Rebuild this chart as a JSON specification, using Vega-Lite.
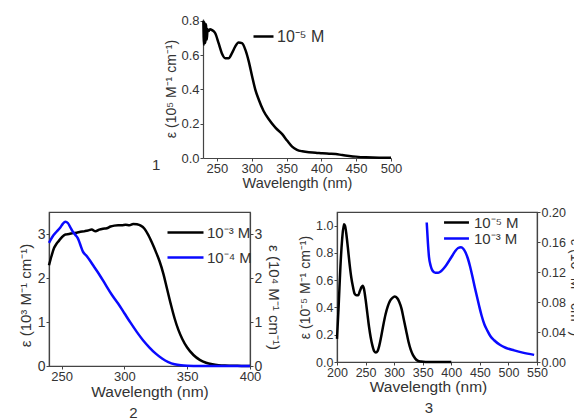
{
  "$schema": "https://vega.github.io/schema/vega-lite/v6.json",
  "padding": {"left": 17, "top": 14, "right": 0, "bottom": 0},
  "datasets": {
    "p1": [
      {"wl": 230.5, "eps": 0.80, "series": "10⁻⁵ M"},
      {"wl": 231.5, "eps": 0.66, "series": "10⁻⁵ M"},
      {"wl": 232.5, "eps": 0.79, "series": "10⁻⁵ M"},
      {"wl": 233.5, "eps": 0.67, "series": "10⁻⁵ M"},
      {"wl": 234.5, "eps": 0.78, "series": "10⁻⁵ M"},
      {"wl": 235.5, "eps": 0.69, "series": "10⁻⁵ M"},
      {"wl": 236.5, "eps": 0.75, "series": "10⁻⁵ M"},
      {"wl": 238, "eps": 0.74, "series": "10⁻⁵ M"},
      {"wl": 240, "eps": 0.75, "series": "10⁻⁵ M"},
      {"wl": 243, "eps": 0.745, "series": "10⁻⁵ M"},
      {"wl": 247.6, "eps": 0.727, "series": "10⁻⁵ M"},
      {"wl": 252.4, "eps": 0.669, "series": "10⁻⁵ M"},
      {"wl": 257, "eps": 0.611, "series": "10⁻⁵ M"},
      {"wl": 262, "eps": 0.582, "series": "10⁻⁵ M"},
      {"wl": 266.8, "eps": 0.582, "series": "10⁻⁵ M"},
      {"wl": 271.6, "eps": 0.611, "series": "10⁻⁵ M"},
      {"wl": 276.4, "eps": 0.65, "series": "10⁻⁵ M"},
      {"wl": 281, "eps": 0.673, "series": "10⁻⁵ M"},
      {"wl": 286, "eps": 0.669, "series": "10⁻⁵ M"},
      {"wl": 290.9, "eps": 0.63, "series": "10⁻⁵ M"},
      {"wl": 295.7, "eps": 0.563, "series": "10⁻⁵ M"},
      {"wl": 300.5, "eps": 0.476, "series": "10⁻⁵ M"},
      {"wl": 305, "eps": 0.4, "series": "10⁻⁵ M"},
      {"wl": 310, "eps": 0.341, "series": "10⁻⁵ M"},
      {"wl": 317, "eps": 0.274, "series": "10⁻⁵ M"},
      {"wl": 324.5, "eps": 0.226, "series": "10⁻⁵ M"},
      {"wl": 334, "eps": 0.177, "series": "10⁻⁵ M"},
      {"wl": 343.75, "eps": 0.139, "series": "10⁻⁵ M"},
      {"wl": 351, "eps": 0.1, "series": "10⁻⁵ M"},
      {"wl": 358, "eps": 0.066, "series": "10⁻⁵ M"},
      {"wl": 365, "eps": 0.048, "series": "10⁻⁵ M"},
      {"wl": 372.6, "eps": 0.039, "series": "10⁻⁵ M"},
      {"wl": 382, "eps": 0.033, "series": "10⁻⁵ M"},
      {"wl": 391.8, "eps": 0.031, "series": "10⁻⁵ M"},
      {"wl": 401.4, "eps": 0.027, "series": "10⁻⁵ M"},
      {"wl": 411, "eps": 0.025, "series": "10⁻⁵ M"},
      {"wl": 420.7, "eps": 0.023, "series": "10⁻⁵ M"},
      {"wl": 430, "eps": 0.017, "series": "10⁻⁵ M"},
      {"wl": 440, "eps": 0.012, "series": "10⁻⁵ M"},
      {"wl": 449.5, "eps": 0.008, "series": "10⁻⁵ M"},
      {"wl": 464, "eps": 0.004, "series": "10⁻⁵ M"},
      {"wl": 483, "eps": 0.002, "series": "10⁻⁵ M"},
      {"wl": 500, "eps": 0.002, "series": "10⁻⁵ M"}
    ],
    "p2a": [
      {"wl": 240, "eps": 2.29, "series": "10⁻³ M"},
      {"wl": 242, "eps": 2.5, "series": "10⁻³ M"},
      {"wl": 244, "eps": 2.68, "series": "10⁻³ M"},
      {"wl": 246, "eps": 2.78, "series": "10⁻³ M"},
      {"wl": 248, "eps": 2.85, "series": "10⁻³ M"},
      {"wl": 250, "eps": 2.92, "series": "10⁻³ M"},
      {"wl": 253, "eps": 2.99, "series": "10⁻³ M"},
      {"wl": 256, "eps": 3.0, "series": "10⁻³ M"},
      {"wl": 259, "eps": 3.02, "series": "10⁻³ M"},
      {"wl": 262, "eps": 3.03, "series": "10⁻³ M"},
      {"wl": 265, "eps": 3.05, "series": "10⁻³ M"},
      {"wl": 268, "eps": 3.06, "series": "10⁻³ M"},
      {"wl": 271, "eps": 3.08, "series": "10⁻³ M"},
      {"wl": 274, "eps": 3.1, "series": "10⁻³ M"},
      {"wl": 277, "eps": 3.06, "series": "10⁻³ M"},
      {"wl": 280, "eps": 3.1, "series": "10⁻³ M"},
      {"wl": 283, "eps": 3.12, "series": "10⁻³ M"},
      {"wl": 286, "eps": 3.13, "series": "10⁻³ M"},
      {"wl": 289, "eps": 3.17, "series": "10⁻³ M"},
      {"wl": 292, "eps": 3.19, "series": "10⁻³ M"},
      {"wl": 295, "eps": 3.2, "series": "10⁻³ M"},
      {"wl": 298, "eps": 3.2, "series": "10⁻³ M"},
      {"wl": 301, "eps": 3.21, "series": "10⁻³ M"},
      {"wl": 304, "eps": 3.2, "series": "10⁻³ M"},
      {"wl": 307, "eps": 3.23, "series": "10⁻³ M"},
      {"wl": 310, "eps": 3.22, "series": "10⁻³ M"},
      {"wl": 313, "eps": 3.19, "series": "10⁻³ M"},
      {"wl": 316, "eps": 3.12, "series": "10⁻³ M"},
      {"wl": 319, "eps": 2.98, "series": "10⁻³ M"},
      {"wl": 322, "eps": 2.8, "series": "10⁻³ M"},
      {"wl": 325, "eps": 2.6, "series": "10⁻³ M"},
      {"wl": 328, "eps": 2.38, "series": "10⁻³ M"},
      {"wl": 331, "eps": 2.1, "series": "10⁻³ M"},
      {"wl": 334, "eps": 1.75, "series": "10⁻³ M"},
      {"wl": 337, "eps": 1.4, "series": "10⁻³ M"},
      {"wl": 340, "eps": 1.08, "series": "10⁻³ M"},
      {"wl": 343, "eps": 0.82, "series": "10⁻³ M"},
      {"wl": 346, "eps": 0.62, "series": "10⁻³ M"},
      {"wl": 350, "eps": 0.42, "series": "10⁻³ M"},
      {"wl": 355, "eps": 0.25, "series": "10⁻³ M"},
      {"wl": 360, "eps": 0.14, "series": "10⁻³ M"},
      {"wl": 365, "eps": 0.075, "series": "10⁻³ M"},
      {"wl": 370, "eps": 0.04, "series": "10⁻³ M"},
      {"wl": 375, "eps": 0.02, "series": "10⁻³ M"},
      {"wl": 380, "eps": 0.01, "series": "10⁻³ M"},
      {"wl": 390, "eps": 0.003, "series": "10⁻³ M"},
      {"wl": 400, "eps": 0.0, "series": "10⁻³ M"}
    ],
    "p2b": [
      {"wl": 240, "eps": 2.8, "series": "10⁻⁴ M"},
      {"wl": 243, "eps": 2.95, "series": "10⁻⁴ M"},
      {"wl": 246, "eps": 3.05, "series": "10⁻⁴ M"},
      {"wl": 249, "eps": 3.15, "series": "10⁻⁴ M"},
      {"wl": 251, "eps": 3.23, "series": "10⁻⁴ M"},
      {"wl": 253, "eps": 3.28, "series": "10⁻⁴ M"},
      {"wl": 255, "eps": 3.25, "series": "10⁻⁴ M"},
      {"wl": 257, "eps": 3.15, "series": "10⁻⁴ M"},
      {"wl": 259, "eps": 3.05, "series": "10⁻⁴ M"},
      {"wl": 261, "eps": 2.98, "series": "10⁻⁴ M"},
      {"wl": 263, "eps": 2.9, "series": "10⁻⁴ M"},
      {"wl": 265, "eps": 2.75, "series": "10⁻⁴ M"},
      {"wl": 267, "eps": 2.6, "series": "10⁻⁴ M"},
      {"wl": 270, "eps": 2.5, "series": "10⁻⁴ M"},
      {"wl": 273, "eps": 2.38, "series": "10⁻⁴ M"},
      {"wl": 276, "eps": 2.25, "series": "10⁻⁴ M"},
      {"wl": 280, "eps": 2.08, "series": "10⁻⁴ M"},
      {"wl": 285, "eps": 1.85, "series": "10⁻⁴ M"},
      {"wl": 290, "eps": 1.62, "series": "10⁻⁴ M"},
      {"wl": 295, "eps": 1.42, "series": "10⁻⁴ M"},
      {"wl": 300, "eps": 1.2, "series": "10⁻⁴ M"},
      {"wl": 305, "eps": 0.98, "series": "10⁻⁴ M"},
      {"wl": 310, "eps": 0.77, "series": "10⁻⁴ M"},
      {"wl": 315, "eps": 0.58, "series": "10⁻⁴ M"},
      {"wl": 320, "eps": 0.42, "series": "10⁻⁴ M"},
      {"wl": 325, "eps": 0.28, "series": "10⁻⁴ M"},
      {"wl": 330, "eps": 0.17, "series": "10⁻⁴ M"},
      {"wl": 335, "eps": 0.09, "series": "10⁻⁴ M"},
      {"wl": 340, "eps": 0.04, "series": "10⁻⁴ M"},
      {"wl": 345, "eps": 0.015, "series": "10⁻⁴ M"},
      {"wl": 350, "eps": 0.005, "series": "10⁻⁴ M"},
      {"wl": 360, "eps": 0.0, "series": "10⁻⁴ M"},
      {"wl": 400, "eps": 0.0, "series": "10⁻⁴ M"}
    ],
    "p3a": [
      {"wl": 200, "eps": 0.17, "series": "10⁻⁵ M"},
      {"wl": 203, "eps": 0.42, "series": "10⁻⁵ M"},
      {"wl": 206, "eps": 0.7, "series": "10⁻⁵ M"},
      {"wl": 209, "eps": 0.9, "series": "10⁻⁵ M"},
      {"wl": 212, "eps": 1.01, "series": "10⁻⁵ M"},
      {"wl": 214, "eps": 1.0, "series": "10⁻⁵ M"},
      {"wl": 216, "eps": 0.95, "series": "10⁻⁵ M"},
      {"wl": 219, "eps": 0.84, "series": "10⁻⁵ M"},
      {"wl": 222, "eps": 0.72, "series": "10⁻⁵ M"},
      {"wl": 225, "eps": 0.62, "series": "10⁻⁵ M"},
      {"wl": 228, "eps": 0.55, "series": "10⁻⁵ M"},
      {"wl": 231, "eps": 0.5, "series": "10⁻⁵ M"},
      {"wl": 234, "eps": 0.49, "series": "10⁻⁵ M"},
      {"wl": 237, "eps": 0.49, "series": "10⁻⁵ M"},
      {"wl": 240, "eps": 0.52, "series": "10⁻⁵ M"},
      {"wl": 243, "eps": 0.55, "series": "10⁻⁵ M"},
      {"wl": 245, "eps": 0.56, "series": "10⁻⁵ M"},
      {"wl": 247, "eps": 0.54, "series": "10⁻⁵ M"},
      {"wl": 250, "eps": 0.46, "series": "10⁻⁵ M"},
      {"wl": 253, "eps": 0.36, "series": "10⁻⁵ M"},
      {"wl": 256, "eps": 0.26, "series": "10⁻⁵ M"},
      {"wl": 259, "eps": 0.18, "series": "10⁻⁵ M"},
      {"wl": 262, "eps": 0.12, "series": "10⁻⁵ M"},
      {"wl": 265, "eps": 0.08, "series": "10⁻⁵ M"},
      {"wl": 268, "eps": 0.07, "series": "10⁻⁵ M"},
      {"wl": 271, "eps": 0.08, "series": "10⁻⁵ M"},
      {"wl": 274, "eps": 0.12, "series": "10⁻⁵ M"},
      {"wl": 277, "eps": 0.18, "series": "10⁻⁵ M"},
      {"wl": 281, "eps": 0.27, "series": "10⁻⁵ M"},
      {"wl": 285, "eps": 0.35, "series": "10⁻⁵ M"},
      {"wl": 289, "eps": 0.41, "series": "10⁻⁵ M"},
      {"wl": 293, "eps": 0.45, "series": "10⁻⁵ M"},
      {"wl": 297, "eps": 0.47, "series": "10⁻⁵ M"},
      {"wl": 301, "eps": 0.48, "series": "10⁻⁵ M"},
      {"wl": 305, "eps": 0.47, "series": "10⁻⁵ M"},
      {"wl": 309, "eps": 0.44, "series": "10⁻⁵ M"},
      {"wl": 313, "eps": 0.39, "series": "10⁻⁵ M"},
      {"wl": 317, "eps": 0.31, "series": "10⁻⁵ M"},
      {"wl": 321, "eps": 0.23, "series": "10⁻⁵ M"},
      {"wl": 325, "eps": 0.15, "series": "10⁻⁵ M"},
      {"wl": 329, "eps": 0.09, "series": "10⁻⁵ M"},
      {"wl": 333, "eps": 0.05, "series": "10⁻⁵ M"},
      {"wl": 337, "eps": 0.025, "series": "10⁻⁵ M"},
      {"wl": 341, "eps": 0.01, "series": "10⁻⁵ M"},
      {"wl": 347, "eps": 0.003, "series": "10⁻⁵ M"},
      {"wl": 355, "eps": 0.0, "series": "10⁻⁵ M"},
      {"wl": 400, "eps": 0.0, "series": "10⁻⁵ M"}
    ],
    "p3b": [
      {"wl": 357, "eps": 0.186, "series": "10⁻³ M"},
      {"wl": 359, "eps": 0.16, "series": "10⁻³ M"},
      {"wl": 361, "eps": 0.14, "series": "10⁻³ M"},
      {"wl": 364, "eps": 0.128, "series": "10⁻³ M"},
      {"wl": 367, "eps": 0.122, "series": "10⁻³ M"},
      {"wl": 372, "eps": 0.119, "series": "10⁻³ M"},
      {"wl": 377, "eps": 0.119, "series": "10⁻³ M"},
      {"wl": 382, "eps": 0.121, "series": "10⁻³ M"},
      {"wl": 387, "eps": 0.125, "series": "10⁻³ M"},
      {"wl": 392, "eps": 0.13, "series": "10⁻³ M"},
      {"wl": 397, "eps": 0.136, "series": "10⁻³ M"},
      {"wl": 402, "eps": 0.142, "series": "10⁻³ M"},
      {"wl": 407, "eps": 0.148, "series": "10⁻³ M"},
      {"wl": 412, "eps": 0.152, "series": "10⁻³ M"},
      {"wl": 417, "eps": 0.153, "series": "10⁻³ M"},
      {"wl": 421, "eps": 0.151, "series": "10⁻³ M"},
      {"wl": 425, "eps": 0.146, "series": "10⁻³ M"},
      {"wl": 429, "eps": 0.138, "series": "10⁻³ M"},
      {"wl": 433, "eps": 0.127, "series": "10⁻³ M"},
      {"wl": 437, "eps": 0.114, "series": "10⁻³ M"},
      {"wl": 441, "eps": 0.1, "series": "10⁻³ M"},
      {"wl": 445, "eps": 0.087, "series": "10⁻³ M"},
      {"wl": 449, "eps": 0.074, "series": "10⁻³ M"},
      {"wl": 453, "eps": 0.062, "series": "10⁻³ M"},
      {"wl": 458, "eps": 0.05, "series": "10⁻³ M"},
      {"wl": 463, "eps": 0.042, "series": "10⁻³ M"},
      {"wl": 468, "eps": 0.035, "series": "10⁻³ M"},
      {"wl": 475, "eps": 0.029, "series": "10⁻³ M"},
      {"wl": 485, "eps": 0.023, "series": "10⁻³ M"},
      {"wl": 495, "eps": 0.019, "series": "10⁻³ M"},
      {"wl": 510, "eps": 0.0155, "series": "10⁻³ M"},
      {"wl": 525, "eps": 0.0125, "series": "10⁻³ M"},
      {"wl": 545, "eps": 0.0095, "series": "10⁻³ M"}
    ]
  },
  "spacing": 15,
  "resolve": {"scale": {"color": "independent"}, "legend": {"color": "independent"}},
  "vconcat": [
    {
      "bounds": "flush",
      "spacing": 0,
      "resolve": {"scale": {"color": "independent"}, "legend": {"color": "independent"}},
      "hconcat": [
        {
          "width": 154, "height": 1,
          "view": {"stroke": "transparent"},
          "data": {"values": []},
          "mark": "point",
          "encoding": {}
        },
        {
          "width": 188, "height": 139,
          "view": {"stroke": null},
          "title": {"text": "1", "orient": "bottom", "anchor": "start", "dx": -13, "dy": -32, "offset": 0, "fontSize": 15, "fontWeight": "normal", "color": "#333"},
          "data": {"name": "p1"},
          "mark": {"type": "line", "strokeWidth": 2.5, "interpolate": "monotone"},
          "encoding": {
            "x": {"field": "wl", "type": "quantitative", "scale": {"domain": [230, 500], "nice": false},
                  "axis": {"values": [250, 300, 350, 400, 450, 500], "title": "Wavelength (nm)", "labelFontSize": 13, "titleFontSize": 14.5, "titlePadding": 1}},
            "y": {"field": "eps", "type": "quantitative", "scale": {"domain": [0, 0.81], "nice": false},
                  "axis": {"values": [0, 0.2, 0.4, 0.6, 0.8], "format": ".1f", "title": "ε (10⁵ M⁻¹ cm⁻¹)", "labelFontSize": 13, "titleFontSize": 14, "titlePadding": 2}},
            "color": {"field": "series", "type": "nominal", "scale": {"domain": ["10⁻⁵ M"], "range": ["#000000"]},
                      "legend": {"orient": "none", "legendX": 49, "legendY": 6, "title": null, "symbolSize": 400, "labelFontSize": 16}}
          }
        }
      ]
    },
    {
      "bounds": "flush",
      "spacing": 87,
      "resolve": {"scale": {"color": "independent"}, "legend": {"color": "independent"}},
      "hconcat": [
        {
          "width": 201, "height": 154,
          "title": {"text": "2", "orient": "bottom", "dx": -16, "offset": 6, "fontSize": 15, "fontWeight": "normal", "color": "#333"},
          "layer": [
            {
              "data": {"name": "p2a"},
              "mark": {"type": "line", "strokeWidth": 2.5, "interpolate": "monotone"},
              "encoding": {
                "x": {"field": "wl", "type": "quantitative", "scale": {"domain": [240, 400], "nice": false},
                      "axis": {"values": [250, 300, 350, 400], "title": "Wavelength (nm)", "labelFontSize": 13, "titleFontSize": 15.5, "titlePadding": 1}},
                "y": {"field": "eps", "type": "quantitative", "scale": {"domain": [0, 3.5], "nice": false},
                      "axis": {"orient": "left", "values": [0, 1, 2, 3], "title": "ε (10³ M⁻¹ cm⁻¹)", "labelFontSize": 14, "titleFontSize": 15, "titlePadding": 4, "titleY": 83}},
                "color": {"field": "series", "type": "nominal", "scale": {"domain": ["10⁻³ M", "10⁻⁴ M"], "range": ["#000000", "#0a0aff"]},
                          "legend": {"orient": "none", "legendX": 129, "legendY": 13, "title": null, "symbolType": "M-3,0H3", "symbolSize": 144, "labelOffset": 14, "labelFontSize": 15, "rowPadding": 9}}
              }
            },
            {
              "data": {"name": "p2b"},
              "mark": {"type": "line", "strokeWidth": 2.5, "interpolate": "monotone"},
              "encoding": {
                "x": {"field": "wl", "type": "quantitative", "scale": {"domain": [240, 400], "nice": false},
                      "axis": {"values": [250, 300, 350, 400], "title": "Wavelength (nm)", "labelFontSize": 13, "titleFontSize": 15.5, "titlePadding": 1}},
                "y": {"field": "eps", "type": "quantitative", "scale": {"domain": [0, 3.5], "nice": false},
                      "axis": {"orient": "right", "values": [0, 1, 2, 3], "title": "ε (10⁴ M⁻¹ cm⁻¹)", "labelFontSize": 14, "titleFontSize": 15, "titlePadding": 4, "titleY": 85}},
                "color": {"field": "series", "type": "nominal", "scale": {"domain": ["10⁻³ M", "10⁻⁴ M"], "range": ["#000000", "#0a0aff"]},
                          "legend": {"orient": "none", "legendX": 129, "legendY": 13, "title": null, "symbolType": "M-3,0H3", "symbolSize": 144, "labelOffset": 14, "labelFontSize": 15, "rowPadding": 9}}
              }
            }
          ],
          "resolve": {"scale": {"y": "independent"}}
        },
        {
          "width": 200, "height": 150,
          "title": {"text": "3", "orient": "bottom", "dx": -8, "offset": 6, "fontSize": 15, "fontWeight": "normal", "color": "#333"},
          "layer": [
            {
              "data": {"name": "p3a"},
              "mark": {"type": "line", "strokeWidth": 2.5, "interpolate": "monotone"},
              "encoding": {
                "x": {"field": "wl", "type": "quantitative", "scale": {"domain": [200, 550], "nice": false},
                      "axis": {"values": [200, 250, 300, 350, 400, 450, 500, 550], "title": "Wavelength (nm)", "labelFontSize": 12.5, "titleFontSize": 15.5, "titlePadding": 1, "titleX": 91}},
                "y": {"field": "eps", "type": "quantitative", "scale": {"domain": [0, 1.1], "nice": false},
                      "axis": {"orient": "left", "values": [0, 0.2, 0.4, 0.6, 0.8, 1.0], "format": ".1f", "title": "ε (10⁻⁵ M⁻¹ cm⁻¹)", "labelFontSize": 12.5, "titleFontSize": 14, "titlePadding": 3}},
                "color": {"field": "series", "type": "nominal", "scale": {"domain": ["10⁻⁵ M", "10⁻³ M"], "range": ["#000000", "#0a0aff"]},
                          "legend": {"orient": "none", "legendX": 112, "legendY": 3, "title": null, "symbolType": "M-3,0H3", "symbolSize": 69, "labelOffset": 10, "labelFontSize": 15, "rowPadding": 0}}
              }
            },
            {
              "data": {"name": "p3b"},
              "mark": {"type": "line", "strokeWidth": 2.5, "interpolate": "monotone"},
              "encoding": {
                "x": {"field": "wl", "type": "quantitative", "scale": {"domain": [200, 550], "nice": false},
                      "axis": {"values": [200, 250, 300, 350, 400, 450, 500, 550], "title": "Wavelength (nm)", "labelFontSize": 12.5, "titleFontSize": 15.5, "titlePadding": 1, "titleX": 91}},
                "y": {"field": "eps", "type": "quantitative", "scale": {"domain": [0, 0.2], "nice": false},
                      "axis": {"orient": "right", "values": [0, 0.04, 0.08, 0.12, 0.16, 0.2], "format": ".2f", "title": "ε (10³ M⁻¹ cm⁻¹)", "labelFontSize": 12.5, "titleFontSize": 14, "titlePadding": 2}},
                "color": {"field": "series", "type": "nominal", "scale": {"domain": ["10⁻⁵ M", "10⁻³ M"], "range": ["#000000", "#0a0aff"]},
                          "legend": {"orient": "none", "legendX": 112, "legendY": 3, "title": null, "symbolType": "M-3,0H3", "symbolSize": 69, "labelOffset": 10, "labelFontSize": 15, "rowPadding": 0}}
              }
            }
          ],
          "resolve": {"scale": {"y": "independent"}}
        }
      ]
    }
  ],
  "config": {
    "font": "Liberation Sans",
    "view": {"stroke": "#444", "strokeWidth": 1.2},
    "axis": {
      "labelFont": "Liberation Sans", "titleFont": "Liberation Sans",
      "labelColor": "#333", "titleColor": "#333", "titleFontWeight": "normal",
      "domainColor": "#444", "tickColor": "#444", "domainWidth": 1.2,
      "grid": false, "tickSize": 3, "labelPadding": 1,
      "labelFlush": false, "labelOverlap": false
    },
    "legend": {
      "labelFont": "Liberation Sans", "labelColor": "#333",
      "symbolType": "stroke", "symbolStrokeWidth": 2.5, "labelOffset": 2
    }
  }
}
